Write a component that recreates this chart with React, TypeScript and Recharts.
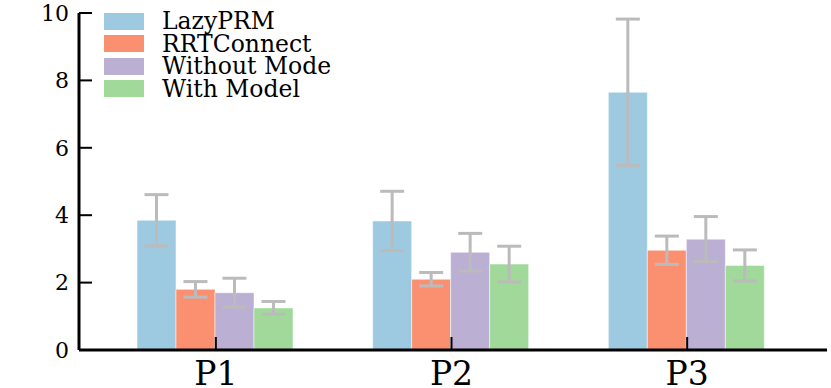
import { Bar, BarChart, ErrorBar, Legend, XAxis, YAxis } from 'recharts';

const categories = ['P1', 'P2', 'P3'];

const lazyPRM = [3.85, 3.83, 7.65];
const lazyPRMErr = [0.76, 0.88, 2.17];
const rrtConnect = [1.8, 2.1, 2.96];
const rrtConnectErr = [0.23, 0.2, 0.42];
const withoutMode = [1.7, 2.9, 3.29];
const withoutModeErr = [0.43, 0.56, 0.67];
const withModel = [1.25, 2.55, 2.51];
const withModelErr = [0.19, 0.53, 0.46];

const yTicks = [0, 2, 4, 6, 8, 10];

const series = [
  { key: 'lazy', err: 'lazyErr', name: 'LazyPRM', color: '#9ecae1' },
  { key: 'rrt', err: 'rrtErr', name: 'RRTConnect', color: '#fb9070' },
  { key: 'without', err: 'withoutErr', name: 'Without Mode', color: '#bcafd4' },
  { key: 'with', err: 'withErr', name: 'With Model', color: '#a1d99b' },
];

const data = categories.map((name, i) => ({
  name,
  lazy: lazyPRM[i],
  lazyErr: lazyPRMErr[i],
  rrt: rrtConnect[i],
  rrtErr: rrtConnectErr[i],
  without: withoutMode[i],
  withoutErr: withoutModeErr[i],
  with: withModel[i],
  withErr: withModelErr[i],
}));

const FONT = '"DejaVu Serif", serif';

function LegendBox() {
  return (
    <div style={{ fontFamily: FONT, fontSize: 23.5, lineHeight: '22.5px', color: '#000' }}>
      {series.map((s) => (
        <div key={s.key} style={{ display: 'flex', alignItems: 'center', height: 22.5 }}>
          <div style={{ width: 40, height: 17, background: s.color, marginRight: 18 }} />
          <span style={{ fontWeight: 300 }}>{s.name}</span>
        </div>
      ))}
    </div>
  );
}

export default function App() {
  return (
    <div style={{ position: 'absolute', left: 0, top: 0, width: 831, height: 388, background: '#fff' }}>
      <BarChart
        width={831}
        height={388}
        data={data}
        margin={{ top: 13, right: 4, bottom: 0, left: 0 }}
        barCategoryGap={39}
        barGap={0}
        style={{ fontFamily: FONT }}
      >
        <XAxis
          dataKey="name"
          height={38}
          padding={{ left: 19, right: 22 }}
          axisLine={{ stroke: '#000', strokeWidth: 3 }}
          tickLine={{ stroke: '#000', strokeWidth: 2 }}
          tickSize={-13}
          tickMargin={25}
          tick={{ fill: '#000', fontSize: 33, fontFamily: FONT }}
        />
        <YAxis
          width={79}
          domain={[0, 10]}
          ticks={yTicks}
          axisLine={{ stroke: '#000', strokeWidth: 3 }}
          tickLine={{ stroke: '#000', strokeWidth: 2 }}
          tickSize={-13}
          tickMargin={23}
          tick={{ fill: '#000', fontSize: 22, fontFamily: FONT }}
        />
        <Legend
          layout="vertical"
          align="center"
          verticalAlign="middle"
          wrapperStyle={{ left: 104, top: 10, width: 320 }}
          content={() => <LegendBox />}
        />
        {series.map((s) => (
          <Bar
            key={s.key}
            dataKey={s.key}
            name={s.name}
            fill={s.color}
            stroke="#ffffff"
            strokeOpacity={0.5}
            strokeWidth={1}
            isAnimationActive={false}
          >
            <ErrorBar dataKey={s.err} width={12} strokeWidth={3} stroke="#bbbbbb" />
          </Bar>
        ))}
      </BarChart>
    </div>
  );
}
